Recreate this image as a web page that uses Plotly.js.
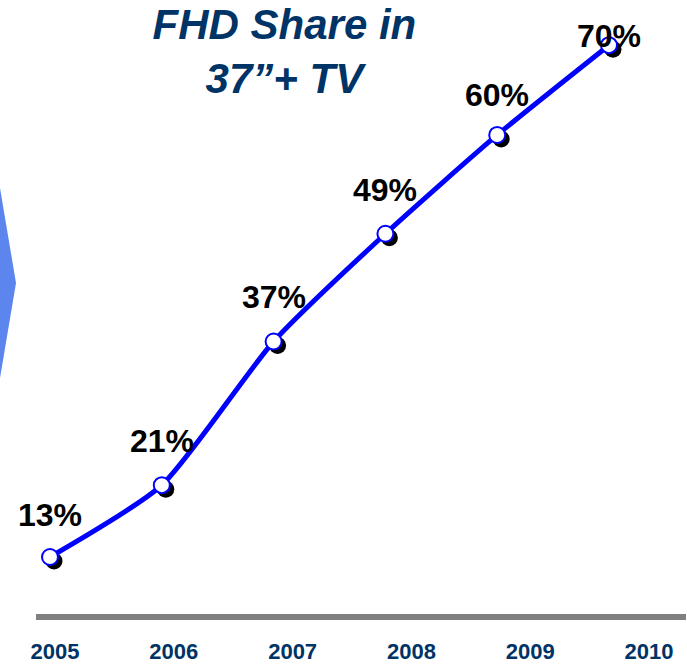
<!DOCTYPE html>
<html>
<head>
<meta charset="utf-8">
<script src="https://cdn.plot.ly/plotly-3.0.1.min.js"></script>
<style>html,body{margin:0;padding:0;background:#fff;}#chart{width:687px;height:668px;}</style>
</head>
<body>
<div id="chart"></div>
<script>
// ---- data ----
const years = ['2005', '2006', '2007', '2008', '2009', '2010'];
const fhdShare = [13, 21, 37, 49, 60, 70];
const shareLabels = ['13%', '21%', '37%', '49%', '60%', '70%'];
const titleText = 'FHD Share in<br>37\u201d+ TV';

// ---- layout helpers ----
const W = 687, H = 668;
const mL = 36, mR = 1, mT = 0, mB = 54;
const pw = W - mL - mR, ph = H - mT - mB;
const sx = 4 / pw, sy = 4 / ph;           // shadow offset (4px) as domain fraction
const idx = years.map((_, i) => i);
const xr = [-0.1252, 5.653];
const yr = [7.098, 75.03];
const labelShift = [42, 44, 44, 44, 40, 9];

const FONT = '"Liberation Sans", Arial, sans-serif';
const NAVY = '#003366';

const shadow = {
  x: idx, y: fhdShare, xaxis: 'x', yaxis: 'y',
  type: 'scatter', mode: 'markers', cliponaxis: false, hoverinfo: 'skip',
  marker: {size: 17, color: '#000000', line: {width: 0}}
};
const main = {
  x: idx, y: fhdShare, xaxis: 'x2', yaxis: 'y2',
  type: 'scatter', mode: 'lines+markers', cliponaxis: false,
  line: {color: '#0000FF', width: 5, shape: 'spline', smoothing: 0.6},
  marker: {size: 16, color: '#FFFFFF', line: {color: '#0000FF', width: 2}}
};
// empty trace that registers the year-label axis
const yearAxisTrace = {
  x: [], y: [], xaxis: 'x3', yaxis: 'y', type: 'scatter', mode: 'markers',
  hoverinfo: 'skip'
};

const annotations = idx.map((i) => ({
  x: i, y: fhdShare[i], xref: 'x2', yref: 'y2',
  text: shareLabels[i], showarrow: false, yshift: labelShift[i],
  font: {family: FONT, size: 32, color: '#000000', weight: 'bold'}
}));

const hidden = {visible: false, fixedrange: true};
const layout = {
  width: W, height: H,
  margin: {l: mL, r: mR, t: mT, b: mB},
  paper_bgcolor: '#FFFFFF', plot_bgcolor: 'rgba(0,0,0,0)',
  showlegend: false,
  title: {
    text: titleText, x: 0.414, xref: 'container', xanchor: 'center',
    y: 0.942, yref: 'container', yanchor: 'top',
    font: {family: FONT, size: 42, color: NAVY, weight: 'bold', style: 'italic'}
  },
  xaxis: Object.assign({domain: [sx, 1], range: xr, anchor: 'y'}, hidden),
  yaxis: Object.assign({domain: [0, 1 - sy], range: yr, anchor: 'x'}, hidden),
  xaxis2: Object.assign({domain: [0, 1 - sx], range: xr, anchor: 'y2'}, hidden),
  yaxis2: Object.assign({domain: [sy, 1], range: yr, anchor: 'x2'}, hidden),
  xaxis3: {
    domain: [0, 1], anchor: 'y', range: [-0.16, 5.311], fixedrange: true,
    tickmode: 'array', tickvals: idx, ticktext: years,
    showline: true, linecolor: '#808080', linewidth: 6,
    showgrid: false, zeroline: false, ticks: '',
    ticklabelstandoff: 13,
    tickfont: {family: FONT, size: 22, color: NAVY, weight: 'bold'}
  },
  shapes: [{
    type: 'path', xref: 'paper', yref: 'paper', layer: 'below',
    path: 'M ' + (-mL / pw) + ' ' + (1 - 188 / ph) +
          ' L ' + ((16 - mL) / pw) + ' ' + (1 - 283 / ph) +
          ' L ' + (-mL / pw) + ' ' + (1 - 378 / ph) + ' Z',
    fillcolor: '#5C86EE', line: {width: 0}
  }],
  annotations: annotations
};

Plotly.newPlot('chart', [shadow, main, yearAxisTrace], layout, {displayModeBar: false, staticPlot: true});
</script>
</body>
</html>
